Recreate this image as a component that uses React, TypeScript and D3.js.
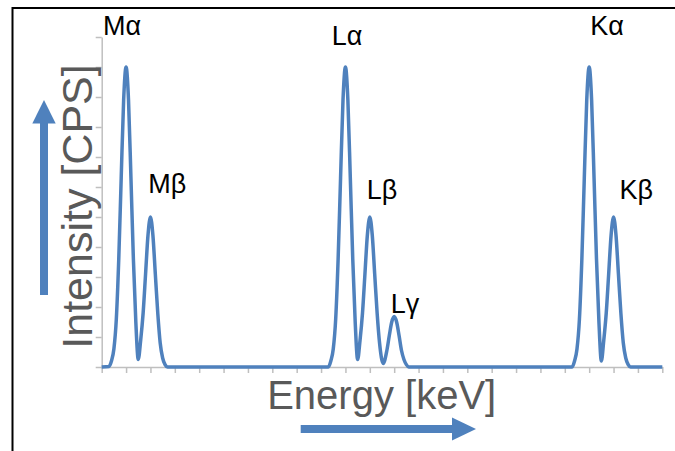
import { useEffect, useRef } from "react";
import * as d3 from "d3";

// spectrum: [energy, intensity]
const mGroup: [number, number][] = [
  [0, 0], [0.3, 0.02], [0.4, 0.2], [0.5, 0.6], [0.6, 1.6], [0.7, 3.6], [0.8, 6.3], [0.9, 8.9],
  [1.0, 10], [1.1, 8.9], [1.2, 6.3], [1.3, 3.6], [1.4, 1.5], [1.5, 0.25], [1.6, 0.9], [1.7, 1.8],
  [1.8, 3.1], [1.9, 4.4], [2.0, 5], [2.1, 4.4], [2.2, 3.1], [2.3, 1.8], [2.4, 0.8], [2.5, 0.3],
  [2.6, 0.08], [2.7, 0],
];
const lGroup: [number, number][] = [
  [9.3, 0], [9.4, 0.2], [9.5, 0.6], [9.6, 1.6], [9.7, 3.6], [9.8, 6.3], [9.9, 8.9], [10, 10],
  [10.1, 8.9], [10.2, 6.3], [10.3, 3.6], [10.4, 1.5], [10.5, 0.25], [10.6, 0.9], [10.7, 1.8],
  [10.8, 3.1], [10.9, 4.4], [11, 5], [11.1, 4.4], [11.2, 3.1], [11.3, 1.8], [11.4, 0.8],
  [11.55, 0.12], [11.7, 0.55], [11.8, 1.05], [11.9, 1.5], [12, 1.68], [12.1, 1.5], [12.2, 1.05],
  [12.3, 0.55], [12.4, 0.25], [12.5, 0.08], [12.6, 0],
];
const kGroup: [number, number][] = [
  [19.3, 0], [19.4, 0.2], [19.5, 0.6], [19.6, 1.6], [19.7, 3.6], [19.8, 6.3], [19.9, 8.9],
  [20, 10], [20.1, 8.9], [20.2, 6.3], [20.3, 3.6], [20.4, 1.5], [20.5, 0.2], [20.6, 0.9],
  [20.7, 1.8], [20.8, 3.1], [20.9, 4.4], [21, 5], [21.1, 4.4], [21.2, 3.1], [21.3, 1.8],
  [21.4, 0.8], [21.5, 0.3], [21.6, 0.08], [21.7, 0], [23, 0],
];

const xTicks = d3.range(0, 24);
const yTicks = d3.range(0, 12);

// peak labels, anchored at [energy, intensity] of the text start/baseline
const peakLabels: { text: string; at: [number, number] }[] = [
  { text: "Mα", at: [0.05, 11.07] },
  { text: "Mβ", at: [1.91, 5.79] },
  { text: "Lα", at: [9.44, 10.73] },
  { text: "Lβ", at: [10.87, 5.59] },
  { text: "Lγ", at: [11.86, 1.81] },
  { text: "Kα", at: [20.04, 11.07] },
  { text: "Kβ", at: [21.24, 5.59] },
];

const blue = "#4F81BD";
const font = "'Liberation Sans', Arial, sans-serif";

export default function App() {
  const svgRef = useRef<SVGSVGElement>(null);

  useEffect(() => {
    const svg = d3.select(svgRef.current);
    svg.selectAll("*").remove();

    const x = d3.scaleLinear().domain([0, 23]).range([101.7, 662.3]);
    const y = d3.scaleLinear().domain([0, 11]).range([367, 37]);

    // outer frame
    svg.append("rect")
      .attr("x", 12.5).attr("y", 8).attr("width", 720).attr("height", 500)
      .attr("fill", "none").attr("stroke", "#000").attr("stroke-width", 2);

    const gx = svg.append("g").attr("transform", `translate(0,${y(0)})`)
      .call(d3.axisBottom(x).tickValues(xTicks).tickFormat(() => "").tickSize(6).tickSizeOuter(0));
    const gy = svg.append("g").attr("transform", `translate(${x(0)},0)`)
      .call(d3.axisLeft(y).tickValues(yTicks).tickFormat(() => "").tickSize(6).tickSizeOuter(0));
    [gx, gy].forEach((g) => {
      g.selectAll("path, line").attr("stroke", "#BFBFBF").attr("stroke-width", 1.5);
    });

    const line = d3.line<[number, number]>()
      .x((d) => x(d[0])).y((d) => y(d[1]))
      .curve(d3.curveMonotoneX);
    svg.append("path")
      .datum([...mGroup, ...lGroup, ...kGroup])
      .attr("d", line)
      .attr("fill", "none").attr("stroke", blue).attr("stroke-width", 3.5)
      .attr("stroke-linejoin", "round");

    svg.selectAll("text.peak")
      .data(peakLabels)
      .join("text")
      .attr("class", "peak")
      .attr("x", (d) => x(d.at[0])).attr("y", (d) => y(d.at[1]))
      .attr("font-family", font).attr("font-size", 27).attr("fill", "#000")
      .text((d) => d.text);

    // axis titles
    svg.append("text")
      .attr("x", 381.7).attr("y", 409)
      .attr("text-anchor", "middle")
      .attr("font-family", font).attr("font-size", 40).attr("fill", "#595959")
      .text("Energy [keV]");
    svg.append("text")
      .attr("transform", "translate(92,206.5) rotate(-90)")
      .attr("text-anchor", "middle")
      .attr("font-family", font).attr("font-size", 43).attr("fill", "#595959")
      .text("Intensity [CPS]");

    // arrows
    svg.append("rect").attr("x", 40).attr("y", 120).attr("width", 8).attr("height", 175).attr("fill", blue);
    svg.append("path").attr("d", "M44,100 L55.7,123.5 L32.3,123.5 Z").attr("fill", blue);
    svg.append("rect").attr("x", 300.7).attr("y", 425).attr("width", 154).attr("height", 8).attr("fill", blue);
    svg.append("path").attr("d", "M476,429 L452,417.5 L452,440.5 Z").attr("fill", blue);
  }, []);

  return (
    <svg
      ref={svgRef}
      width={675}
      height={451}
      style={{ position: "absolute", left: 0, top: 0, background: "#fff" }}
    />
  );
}
